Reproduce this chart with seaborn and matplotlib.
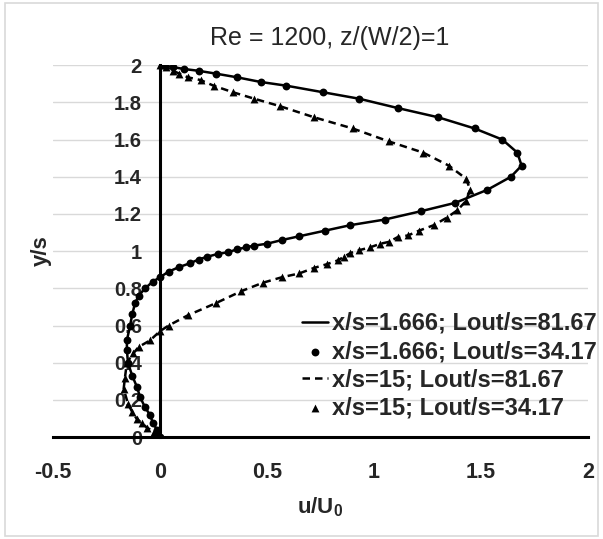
import matplotlib
matplotlib.use("Agg")
import matplotlib.pyplot as plt
import seaborn as sns
import pandas as pd
from matplotlib.patches import Rectangle

# ---------------- data ----------------
title = "Re = 1200, z/(W/2)=1"
labels = ["x/s=1.666; Lout/s=81.67", "x/s=1.666; Lout/s=34.17",
          "x/s=15; Lout/s=81.67", "x/s=15; Lout/s=34.17"]

y_a = [0, 0.04, 0.075, 0.12, 0.16, 0.215, 0.27, 0.33, 0.40, 0.47,
       0.52, 0.60, 0.66, 0.72, 0.76, 0.80, 0.835, 0.86, 0.89, 0.915,
       0.935, 0.955, 0.97, 0.985, 0.995, 1.01, 1.02, 1.03, 1.04, 1.06,
       1.08, 1.11, 1.14, 1.17, 1.215, 1.26, 1.33, 1.40, 1.46, 1.53,
       1.60, 1.66, 1.72, 1.77, 1.82, 1.855, 1.89, 1.91, 1.935, 1.955,
       1.97, 1.98, 1.99, 2.0]
u_a = [0, -0.014, -0.033, -0.047, -0.07, -0.093, -0.108, -0.13, -0.15, -0.155,
       -0.155, -0.14, -0.13, -0.117, -0.10, -0.07, -0.035, 0.0, 0.04, 0.09,
       0.14, 0.18, 0.22, 0.27, 0.32, 0.36, 0.40, 0.44, 0.50, 0.57,
       0.65, 0.77, 0.89, 1.05, 1.22, 1.38, 1.53, 1.64, 1.69, 1.67,
       1.60, 1.47, 1.30, 1.11, 0.93, 0.76, 0.59, 0.47, 0.36, 0.26,
       0.18, 0.11, 0.06, 0.015]

y_b = [0, 0.03, 0.05, 0.075, 0.10, 0.135, 0.18, 0.26, 0.32, 0.40,
       0.45, 0.485, 0.52, 0.57, 0.60, 0.655, 0.72, 0.785, 0.83, 0.86,
       0.88, 0.91, 0.93, 0.95, 0.97, 0.99, 1.005, 1.02, 1.04, 1.05,
       1.075, 1.085, 1.11, 1.14, 1.18, 1.22, 1.27, 1.33, 1.39, 1.46,
       1.53, 1.59, 1.66, 1.72, 1.78, 1.82, 1.855, 1.89, 1.92, 1.935,
       1.955, 1.97, 1.99, 2.0]
u_b = [0, -0.03, -0.06, -0.085, -0.11, -0.13, -0.15, -0.17, -0.164, -0.155,
       -0.125, -0.10, -0.047, 0.0, 0.04, 0.13, 0.26, 0.38, 0.48, 0.57,
       0.65, 0.72, 0.78, 0.83, 0.86, 0.89, 0.93, 0.98, 1.03, 1.07,
       1.11, 1.16, 1.21, 1.28, 1.34, 1.39, 1.43, 1.45, 1.43, 1.35,
       1.23, 1.07, 0.90, 0.72, 0.56, 0.44, 0.34, 0.25, 0.19, 0.13,
       0.09, 0.06, 0.03, 0.0]

x_ticks = [-0.5, 0, 0.5, 1, 1.5, 2]
x_ticklabels = ["-0.5", "0", "0.5", "1", "1.5", "2"]
y_ticks = [0, 0.2, 0.4, 0.6, 0.8, 1, 1.2, 1.4, 1.6, 1.8, 2]
y_ticklabels = ["0", "0.2", "0.4", "0.6", "0.8", "1", "1.2", "1.4", "1.6", "1.8", "2"]

# ---------------- style ----------------
sns.set_theme(style="white")
plt.rcParams["font.family"] = ["Liberation Sans", "DejaVu Sans"]
plt.rcParams["mathtext.fontset"] = "custom"
plt.rcParams["mathtext.rm"] = "Liberation Sans:bold"
plt.rcParams["mathtext.default"] = "rm"

df_a = pd.DataFrame({"u": u_a, "y": y_a})
df_b = pd.DataFrame({"u": u_b, "y": y_b})

fig = plt.figure(figsize=(6.03, 5.39), dpi=100)
ax = fig.add_axes([0.088, 0.189, 0.887, 0.690])

# axes lines first (repositioning a spine resets ticks)
for s in ["top", "right"]:
    ax.spines[s].set_visible(False)
ax.spines["left"].set_position(("data", 0))
ax.spines["left"].set_linewidth(2.2)
ax.spines["left"].set_color("black")
ax.spines["left"].set_zorder(2)
ax.spines["bottom"].set_linewidth(2.2)
ax.spines["bottom"].set_color("black")

# grid
for yt in y_ticks[1:]:
    ax.axhline(yt, color="#d9d9d9", lw=1.0, zorder=0)

sns.lineplot(data=df_a, x="u", y="y", sort=False, estimator=None, ax=ax,
             color="black", lw=1.8, label=labels[0], zorder=3)
sns.scatterplot(data=df_a, x="u", y="y", ax=ax, color="black", marker="o",
                s=32, edgecolor="black", linewidth=0, label=labels[1], zorder=4)
sns.lineplot(data=df_b, x="u", y="y", sort=False, estimator=None, ax=ax,
             color="black", lw=1.8, linestyle=(0, (3, 2)), label=labels[2], zorder=3)
sns.scatterplot(data=df_b, x="u", y="y", ax=ax, color="black", marker="^",
                s=32, edgecolor="black", linewidth=0, label=labels[3], zorder=4)

ax.set_xlim(-0.5, 2)
ax.set_ylim(0, 2)
ax.set_xticks(x_ticks)
ax.set_xticklabels(x_ticklabels, fontweight="bold", fontsize=15.5)
ax.set_yticks(y_ticks)
ax.set_yticklabels(y_ticklabels, fontweight="bold", fontsize=14.5)
ax.tick_params(axis="y", length=0, pad=13)
ax.tick_params(axis="x", length=0, pad=18)

ax.set_xlabel("u/U$_0$", fontsize=16, fontweight="bold", labelpad=9)
ax.set_ylabel("")
fig.text(0.068, 0.535, "y/s", rotation=90, fontsize=16, fontweight="bold",
         ha="center", va="center")
fig.text(0.546, 0.93, title, fontsize=18, ha="center", va="center")

leg = ax.legend(loc="lower right", bbox_to_anchor=(1.035, 0.022), frameon=False,
                prop={"weight": "bold", "size": 17}, handlelength=1.1,
                handletextpad=0.2, labelspacing=0.22, borderaxespad=0)

fig.patches.append(Rectangle((0.008, 0.006), 0.984, 0.988, transform=fig.transFigure,
                             fill=False, ec="#d9d9d9", lw=1.2))

fig.savefig("out.png", dpi=100)
